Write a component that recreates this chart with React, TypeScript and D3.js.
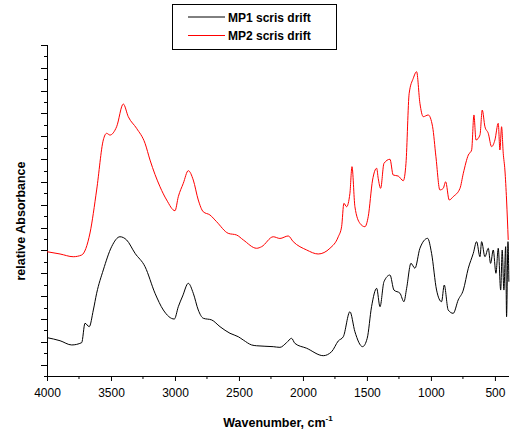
import React, { useEffect, useRef } from 'react';
import * as d3 from 'd3';

// wavenumber (cm-1) / relative absorbance
const mp1Wave = [4000, 3898, 3807, 3729, 3703, 3670, 3638, 3612, 3560, 3495, 3430, 3378, 3312, 3234, 3156, 3091, 3005, 2974, 2940, 2896, 2857, 2818, 2779, 2713, 2648, 2570, 2505, 2466, 2401, 2362, 2232, 2180, 2128, 2089, 2063, 1971, 1841, 1776, 1724, 1685, 1633, 1594, 1534, 1498, 1464, 1424, 1398, 1367, 1320, 1289, 1242, 1211, 1190, 1156, 1125, 1086, 1026, 995, 956, 917, 896, 865, 826, 787, 747, 708, 669, 643, 617, 604, 578, 552, 534, 513, 492, 474, 455, 443, 430, 416, 409, 398, 391];
const mp1Abs = [0.336, 0.309, 0.272, 0.292, 0.462, 0.432, 0.578, 0.725, 0.929, 1.133, 1.22, 1.192, 1.075, 0.958, 0.725, 0.578, 0.499, 0.607, 0.701, 0.812, 0.725, 0.578, 0.506, 0.491, 0.432, 0.374, 0.344, 0.315, 0.272, 0.265, 0.257, 0.251, 0.292, 0.33, 0.286, 0.243, 0.178, 0.213, 0.307, 0.344, 0.563, 0.388, 0.257, 0.33, 0.607, 0.768, 0.607, 0.826, 0.885, 0.753, 0.725, 0.651, 0.768, 0.987, 0.944, 1.119, 1.206, 1.075, 0.753, 0.651, 0.797, 0.578, 0.549, 0.666, 0.753, 0.944, 1.075, 1.177, 1.045, 1.177, 1.045, 1.119, 0.987, 1.104, 0.9, 1.119, 0.753, 1.104, 0.753, 1.133, 0.52, 1.177, 0.826];

const mp2Wave = [4000, 3898, 3795, 3729, 3664, 3612, 3560, 3534, 3508, 3456, 3404, 3365, 3300, 3234, 3195, 3117, 3065, 3000, 2974, 2935, 2896, 2857, 2818, 2779, 2727, 2675, 2584, 2518, 2466, 2362, 2323, 2232, 2180, 2115, 2076, 1971, 1881, 1789, 1724, 1698, 1680, 1659, 1633, 1617, 1594, 1555, 1516, 1490, 1456, 1424, 1412, 1393, 1367, 1320, 1295, 1256, 1216, 1195, 1170, 1138, 1112, 1086, 1060, 1021, 987, 961, 930, 904, 885, 857, 826, 773, 747, 708, 682, 664, 648, 617, 599, 578, 552, 526, 500, 474, 461, 448, 435, 422, 409, 396];
const mp2Abs = [1.089, 1.069, 1.045, 1.06, 1.253, 1.63, 2.068, 2.126, 2.111, 2.184, 2.383, 2.272, 2.17, 2.039, 1.892, 1.658, 1.542, 1.448, 1.571, 1.688, 1.799, 1.717, 1.542, 1.439, 1.411, 1.352, 1.25, 1.235, 1.192, 1.119, 1.133, 1.22, 1.205, 1.227, 1.177, 1.104, 1.069, 1.119, 1.22, 1.308, 1.513, 1.483, 1.601, 1.834, 1.483, 1.338, 1.308, 1.396, 1.717, 1.82, 1.732, 1.644, 1.863, 1.899, 1.761, 1.752, 1.711, 1.863, 2.477, 2.608, 2.666, 2.389, 2.272, 2.287, 2.184, 1.921, 1.63, 1.644, 1.702, 1.542, 1.571, 1.644, 1.776, 1.936, 1.98, 2.287, 2.068, 2.111, 2.33, 2.184, 2.126, 2.009, 2.068, 2.214, 1.98, 2.184, 1.951, 1.805, 1.542, 1.192];

const xTickLabels = [4000, 3500, 3000, 2500, 2000, 1500, 1000, 500];
const seriesNames = ['MP1 scris drift', 'MP2 scris drift'];
const seriesColors = ['#000000', '#ff0000'];

const FONT = 'Arial, "Liberation Sans", sans-serif';

export default function App() {
    const svgRef = useRef<SVGSVGElement>(null);

    useEffect(() => {
        if (!svgRef.current) return;
        const svg = d3.select(svgRef.current);
        svg.selectAll('*').remove();

        const left = 47, right = 509, top = 45, bottom = 376;

        const x = d3.scaleLinear().domain([4000, 390]).range([left, right]);
        const y = d3.scaleLinear().domain([0, 2.9]).range([bottom, top]);

        // x axis: major every 500, minor every 250
        const minorX = d3.range(3750, 390, -500);
        const gx = svg.append('g').attr('transform', `translate(0,${bottom})`);
        gx.call(d3.axisBottom(x).tickValues(xTickLabels).tickSize(5).tickSizeOuter(0).tickFormat(d3.format('d')));
        minorX.forEach(v => {
            gx.append('line').attr('x1', x(v)).attr('x2', x(v)).attr('y1', 0).attr('y2', 3).attr('stroke', '#000');
        });
        gx.select('.domain').attr('stroke', '#000').attr('d', `M${left},0.5H${right}`);
        gx.selectAll('text')
            .attr('font-family', FONT)
            .attr('font-size', 12)
            .attr('fill', '#000')
            .attr('dy', 0)
            .attr('y', 21);

        // y axis: no labels, alternating long/short ticks
        const yTicks = d3.range(0, 30).map(i => i / 10);
        const gy = svg.append('g').attr('transform', `translate(${left},0)`);
        gy.append('line').attr('x1', 0.5).attr('x2', 0.5).attr('y1', top).attr('y2', bottom + 5).attr('stroke', '#000');
        gy.selectAll('line.t')
            .data(yTicks)
            .enter()
            .append('line')
            .attr('class', 't')
            .attr('x1', d => (Math.round(d * 10) % 2 === 1 ? -6 : -3))
            .attr('x2', 0)
            .attr('y1', d => Math.round(y(d)) + 0.5)
            .attr('y2', d => Math.round(y(d)) + 0.5)
            .attr('stroke', '#000');

        // spectra
        const series = [
            { w: mp1Wave, a: mp1Abs, color: seriesColors[0] },
            { w: mp2Wave, a: mp2Abs, color: seriesColors[1] },
        ];
        const line = d3.line<[number, number]>()
            .x(d => x(d[0]))
            .y(d => y(d[1]))
            .curve(d3.curveMonotoneX);
        series.forEach(s => {
            const pts: [number, number][] = s.w.map((w, i) => [w, s.a[i]]);
            svg.append('path')
                .attr('d', line(pts))
                .attr('fill', 'none')
                .attr('stroke', s.color)
                .attr('stroke-width', 1)
                .attr('stroke-linejoin', 'round');
        });

        // axis titles
        const xt = svg.append('text')
            .attr('x', 278)
            .attr('y', 427)
            .attr('text-anchor', 'middle')
            .attr('font-family', FONT)
            .attr('font-size', 12.5)
            .attr('font-weight', 'bold');
        xt.append('tspan').text('Wavenumber, cm');
        xt.append('tspan').attr('dy', -6).attr('font-size', 8).text('-1');

        svg.append('text')
            .attr('transform', 'translate(25,221) rotate(-90)')
            .attr('text-anchor', 'middle')
            .attr('font-family', FONT)
            .attr('font-size', 12.5)
            .attr('font-weight', 'bold')
            .text('relative Absorbance');

        // legend
        const lg = svg.append('g');
        lg.append('rect')
            .attr('x', 172.5).attr('y', 4.5).attr('width', 164).attr('height', 45)
            .attr('fill', '#fff').attr('stroke', '#000');
        seriesNames.forEach((name, i) => {
            const ly = 17 + i * 18.5;
            lg.append('line')
                .attr('x1', 188).attr('x2', 225)
                .attr('y1', ly).attr('y2', ly)
                .attr('stroke', seriesColors[i]);
            lg.append('text')
                .attr('x', 228).attr('y', ly + 4.5)
                .attr('font-family', FONT)
                .attr('font-size', 12)
                .attr('font-weight', 'bold')
                .text(name);
        });
    }, []);

    return (
        <svg
            ref={svgRef}
            width={512}
            height={432}
            style={{ position: 'absolute', left: 0, top: 0, background: '#fff' }}
        />
    );
}
